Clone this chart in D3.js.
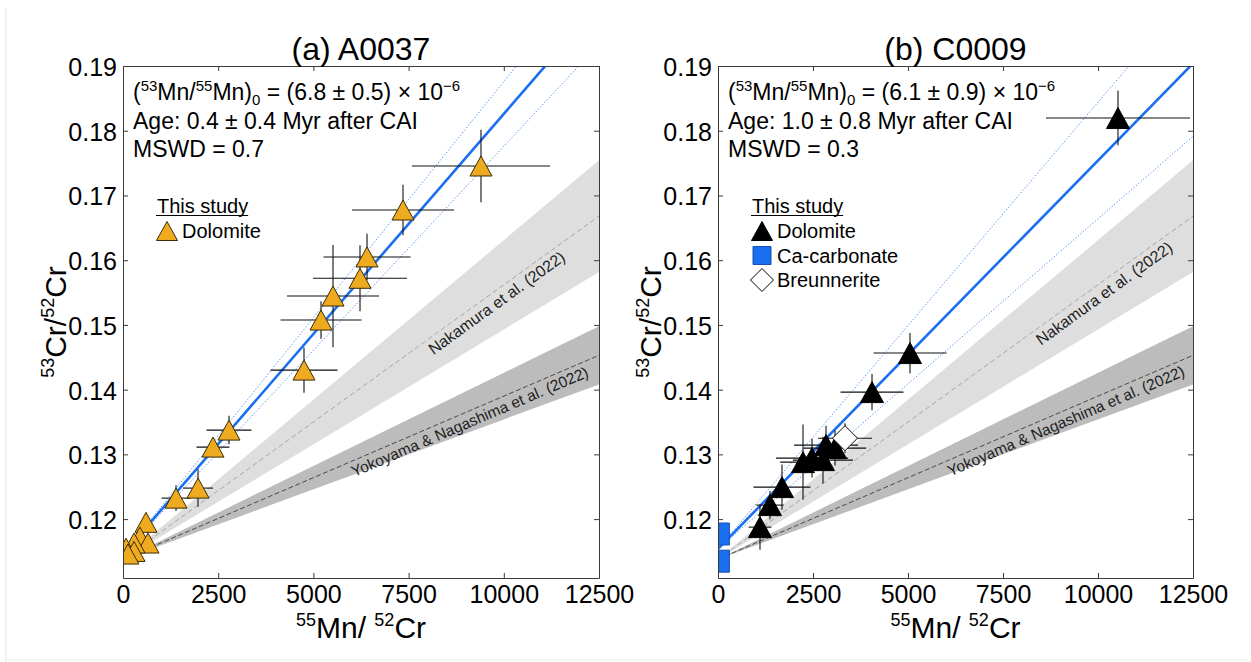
<!DOCTYPE html>
<html><head><meta charset="utf-8">
<script src="https://cdn.jsdelivr.net/npm/d3@7"></script>
<style>
body{margin:0;background:#fff}
text{font-family:"Liberation Sans",Arial,Helvetica,sans-serif;fill:#000}
</style>
</head><body>
<svg id="c" width="1251" height="662"></svg>
<script>
// ---------- shared ticks ----------
const xTicks = [0, 2500, 5000, 7500, 10000, 12500];
const yTicks = [0.12, 0.13, 0.14, 0.15, 0.16, 0.17, 0.18, 0.19];
const xDomain = [0, 12500];
const yDomain = [0.1109, 0.19];

// ---------- literature reference isochrons (intercept, slope, slope error) ----------
const nakamuraRef = [0.1138, 4.24e-6, 0.69e-6];
const yokoyamaRef = [0.1138, 2.52e-6, 0.36e-6];

// ---------- panel (a) A0037 : dolomite ----------
const aDolX    = [9401, 7353, 6408, 6224, 5515, 5200, 4753, 2784, 2363, 1970, 1392, 604, 447, 656, 290, 80, 290, 130];
const aDolY    = [0.17455, 0.16775, 0.1605, 0.1572, 0.15446, 0.15075, 0.14302, 0.13375, 0.13112, 0.12479, 0.12324, 0.1195, 0.1172, 0.1163, 0.1163, 0.1155, 0.1150, 0.1146];
const aDolXerr = [1812, 1339, 1142, 1234, 1208, 1064, 880, 591, 433, 394, 381, 60, 40, 60, 30, 10, 30, 15];
const aDolYerr = [0.0056, 0.0039, 0.0036, 0.0051, 0.0079, 0.0029, 0.0035, 0.0022, 0.0015, 0.0029, 0.0020, 0.0010, 0.0008, 0.0008, 0.0008, 0.0008, 0.0008, 0.0008];
const aFit = [0.1146, 6.8e-6, 0.5e-6];

// ---------- panel (b) C0009 ----------
const bDolX    = [10526, 5053, 4053, 3079, 2842, 2763, 2474, 2237, 1684, 1368, 1105];
const bDolY    = [0.18196, 0.14565, 0.13962, 0.13097, 0.13143, 0.12911, 0.12942, 0.12880, 0.12494, 0.12216, 0.11876];
const bDolXerr = [1895, 960, 829, 820, 840, 790, 950, 600, 750, 360, 300];
const bDolYerr = [0.0042, 0.0031, 0.0028, 0.0027, 0.0030, 0.0036, 0.0030, 0.0058, 0.0035, 0.0022, 0.0035];
const bCaX     = [10, 10];
const bCaY     = [0.1177, 0.1135];
const bCaXerr  = [30, 30];
const bCaYerr  = [0.0058, 0.0020];
const bBrX     = [3342];
const bBrY     = [0.1325];
const bBrXerr  = [710];
const bBrYerr  = [0.0023];
const bFit = [0.1154, 6.0e-6, 0.9e-6];

const svg = d3.select('#c');
// faint screenshot border
svg.append('line').attr('x1',6).attr('x2',6).attr('y1',8).attr('y2',662).attr('stroke','#e2e2e2').attr('stroke-width',1);
svg.append('line').attr('x1',6).attr('x2',1251).attr('y1',660).attr('y2',660).attr('stroke','#eeeeee').attr('stroke-width',1);

function triPath(w,h){ return `M0,${-h/2}L${w/2},${h/2}L${-w/2},${h/2}Z`; }
function diaPath(r){ return `M0,${-r}L${r},0L0,${r}L${-r},0Z`; }
function sqPath(s){ return `M${-s/2},${-s/2}h${s}v${s}h${-s}Z`; }

let curOff = 0;
function supText(sel, parts){
  curOff = 0;
  parts.forEach(([t,k,fs,off])=>{
    const target = k==='sup' ? -off : (k==='sub' ? off : 0);
    sel.append('tspan').text(t).attr('font-size', fs).attr('dy', target - curOff);
    curOff = target;
  });
}

function panel(cfg){
  const {L,R,T,B,id} = cfg;
  const x = d3.scaleLinear().domain(xDomain).range([L,R]);
  const y = d3.scaleLinear().domain(yDomain).range([B,T]);
  const g = svg.append('g');
  g.append('clipPath').attr('id','clip'+id).append('rect')
    .attr('x',L).attr('y',T).attr('width',R-L).attr('height',B-T);
  const d = g.append('g').attr('clip-path',`url(#clip${id})`);

  // reference bands
  const refs = [
    {p: nakamuraRef, fill:'#dedede', stroke:'#a6a6a6', dash:'5,3', label:'Nakamura et al. (2022)', lx: cfg.nakX, fs:16},
    {p: yokoyamaRef, fill:'#bcbcbc', stroke:'#4a4a4a', dash:'5,2.5', label:'Yokoyama & Nagashima et al. (2022)', lx: cfg.yokX, fs:15.5}
  ];
  refs.forEach(r=>{
    const [b,m,e] = r.p;
    d.append('path').datum(xDomain)
      .attr('d', d3.area().x(v=>x(v)).y0(v=>y(b+(m-e)*v)).y1(v=>y(b+(m+e)*v)))
      .attr('fill', r.fill);
    d.append('path').datum(xDomain)
      .attr('d', d3.line().x(v=>x(v)).y(v=>y(b+m*v)))
      .attr('fill','none').attr('stroke',r.stroke).attr('stroke-width',1).attr('stroke-dasharray',r.dash);
    const ang = Math.atan2(y(b) - y(b+m*1000), x(1000)-x(0)) * 180/Math.PI;
    d.append('text')
      .attr('transform',`translate(${x(r.lx)},${y(b+m*r.lx)}) rotate(${-ang})`)
      .attr('text-anchor','middle').attr('dy','1.0em')
      .attr('font-size',r.fs).style('fill','#1e1e1e').text(r.label);
  });

  // fit lines
  const [fb,fm,fe] = cfg.fit;
  [[fm+fe,'dot'],[fm-fe,'dot'],[fm,'solid']].forEach(([m,k])=>{
    const p = d.append('path').datum(xDomain)
      .attr('d', d3.line().x(v=>x(v)).y(v=>y(fb+m*v)))
      .attr('fill','none');
    if(k==='solid') p.attr('stroke','#1a6ff0').attr('stroke-width',2.6);
    else p.attr('stroke','#3f86f5').attr('stroke-width',1).attr('stroke-dasharray','1.2,2');
  });

  // data series: error bars first, then markers
  cfg.series.forEach(s=>{
    const pts = s.X.map((v,i)=>({x:v,y:s.Y[i],xe:s.XE[i],ye:s.YE[i]}));
    const eb = d.append('g').attr('stroke','#111').attr('stroke-width',1.1);
    pts.forEach(p=>{
      eb.append('line').attr('x1',x(p.x-p.xe)).attr('x2',x(p.x+p.xe)).attr('y1',y(p.y)).attr('y2',y(p.y));
      eb.append('line').attr('x1',x(p.x)).attr('x2',x(p.x)).attr('y1',y(p.y-p.ye)).attr('y2',y(p.y+p.ye));
    });
  });
  cfg.series.forEach(s=>{
    const pts = s.X.map((v,i)=>({x:v,y:s.Y[i]}));
    d.append('g').selectAll('path').data(pts).join('path')
      .attr('transform',p=>`translate(${x(p.x)},${y(p.y)})`)
      .attr('d',s.shape).attr('fill',s.fill).attr('stroke',s.stroke).attr('stroke-width',1);
  });

  // axes (inward ticks on all sides)
  const ax = g.append('g').attr('transform',`translate(0,${B})`)
    .call(d3.axisBottom(x).tickValues(xTicks).tickSizeInner(-5).tickSizeOuter(0).tickPadding(7).tickFormat(d3.format('d')));
  const ay = g.append('g').attr('transform',`translate(${L},0)`)
    .call(d3.axisLeft(y).tickValues(yTicks).tickSizeInner(-5).tickSizeOuter(0).tickPadding(6).tickFormat(d3.format('.2f')));
  const at = g.append('g').attr('transform',`translate(0,${T})`)
    .call(d3.axisTop(x).tickValues(xTicks).tickSizeInner(-5).tickSizeOuter(0).tickFormat(''));
  const ar = g.append('g').attr('transform',`translate(${R},0)`)
    .call(d3.axisRight(y).tickValues(yTicks).tickSizeInner(-5).tickSizeOuter(0).tickFormat(''));
  [ax,ay,at,ar].forEach(a=>{
    a.selectAll('path.domain').attr('stroke','#3a3a3a');
    a.selectAll('line').attr('stroke','#3a3a3a');
    a.selectAll('text').attr('font-size',25).attr('font-family','"Liberation Sans",Arial,sans-serif').style('fill','#000');
  });
  ay.selectAll('text').attr('dy','0.38em');

  // title
  g.append('text').attr('x',(L+R)/2).attr('y',60).attr('text-anchor','middle')
    .attr('font-size',32).text(cfg.title);

  // x label
  const xl = g.append('text').attr('x',(L+R)/2).attr('y',638).attr('text-anchor','middle').attr('font-size',30);
  supText(xl, [['55','sup',18,12],['Mn/ ','n',30,0],['52','sup',18,12],['Cr','n',30,0]]);
  // y label
  const yl = g.append('text').attr('transform',`translate(${L-57},${(T+B)/2}) rotate(-90)`)
    .attr('text-anchor','middle').attr('font-size',30);
  supText(yl, [['53','sup',18,12],['Cr/','n',30,0],['52','sup',18,12],['Cr','n',30,0]]);

  // annotation
  const tx = L+10;
  const l1 = g.append('text').attr('x',tx).attr('y',100).attr('font-size',23);
  supText(l1, [['(','n',23,0],['53','sup',15,9],['Mn/','n',23,0],['55','sup',15,9],['Mn)','n',23,0],['0','sub',15,5],
               [` = (${cfg.ratio}) × 10`,'n',23,0],['−6','sup',15,9]]);
  g.append('text').attr('x',tx).attr('y',128.5).attr('font-size',23).text(cfg.age);
  g.append('text').attr('x',tx).attr('y',157).attr('font-size',23).text(cfg.mswd);

  // legend
  const lg = g.append('g');
  const st = lg.append('text').attr('x',L+34).attr('y',213).attr('font-size',20).text('This study');
  const w = st.node().getComputedTextLength();
  lg.append('line').attr('x1',L+33).attr('x2',L+34+w).attr('y1',215.5).attr('y2',215.5).attr('stroke','#000').attr('stroke-width',1);
  cfg.legend.forEach((it,i)=>{
    const cy = 231 + i*24.5;
    lg.append('path').attr('transform',`translate(${L+44},${cy})`).attr('d',it.shape)
      .attr('fill',it.fill).attr('stroke',it.stroke).attr('stroke-width',1);
    lg.append('text').attr('x',L+59).attr('y',cy+7).attr('font-size',20).text(it.label);
  });
}

panel({
  id:'a', L:123, R:599, T:66, B:578, title:'(a) A0037',
  fit: aFit, nakX: 9650, yokX: 9000,
  ratio:'6.8 ± 0.5', age:'Age: 0.4 ± 0.4 Myr after CAI', mswd:'MSWD = 0.7',
  series:[{X:aDolX,Y:aDolY,XE:aDolXerr,YE:aDolYerr,shape:triPath(22,20),fill:'#eeab1f',stroke:'#3a2c08'}],
  legend:[{shape:triPath(21,19),fill:'#eeab1f',stroke:'#3a2c08',label:'Dolomite'}]
});
panel({
  id:'b', L:718, R:1193, T:66, B:578, title:'(b) C0009',
  fit: bFit, nakX: 10000, yokX: 9050,
  ratio:'6.1 ± 0.9', age:'Age: 1.0 ± 0.8 Myr after CAI', mswd:'MSWD = 0.3',
  series:[
    {X:bCaX,Y:bCaY,XE:bCaXerr,YE:bCaYerr,shape:sqPath(22),fill:'#1a6ff0',stroke:'#1a4fb0'},
    {X:bDolX,Y:bDolY,XE:bDolXerr,YE:bDolYerr,shape:triPath(23,21),fill:'#000',stroke:'#000'},
    {X:bBrX,Y:bBrY,XE:bBrXerr,YE:bBrYerr,shape:diaPath(12.5),fill:'#fff',stroke:'#000'}
  ],
  legend:[
    {shape:triPath(21,19),fill:'#000',stroke:'#000',label:'Dolomite'},
    {shape:sqPath(18),fill:'#1a6ff0',stroke:'#1a4fb0',label:'Ca-carbonate'},
    {shape:diaPath(11.5),fill:'#fff',stroke:'#000',label:'Breunnerite'}
  ]
});
</script>
</body></html>
